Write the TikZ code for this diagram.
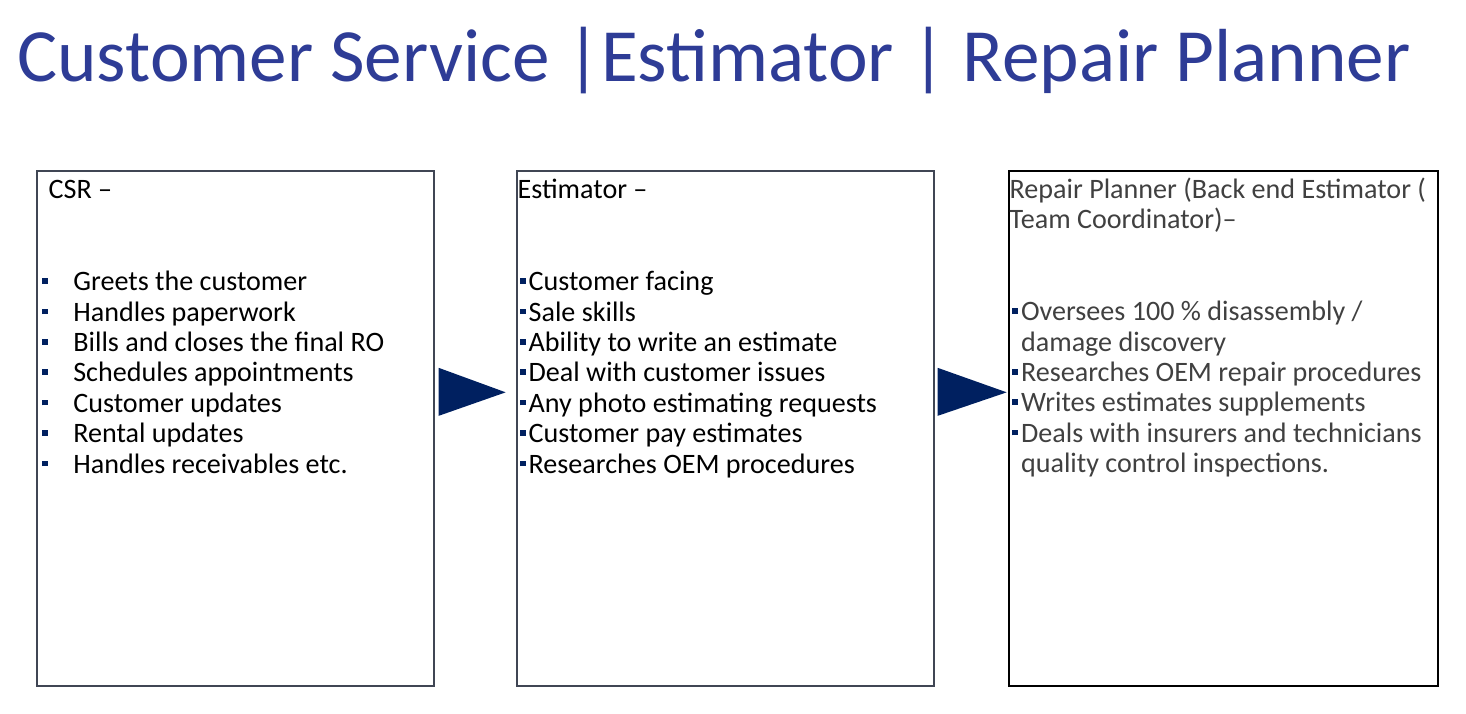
\documentclass[tikz,border=0pt]{standalone}
\usepackage{fontspec}
\setmainfont{Carlito}
\usetikzlibrary{calc}
\definecolor{titleblue}{HTML}{2E3C96}
\definecolor{navy}{HTML}{002060}
\definecolor{boxgrey}{HTML}{404654}
\definecolor{plannergrey}{HTML}{404040}
\def\sqbullet{\textcolor{navy}{\rule[0.14cm]{0.11cm}{0.11cm}}}

\begin{document}
\begin{tikzpicture}[x=0.02cm, y=-0.02cm,
	box/.style={draw=boxgrey, line width=1pt, anchor=north west, inner sep=0pt},
	rowtext/.style={anchor=base west, inner sep=0pt, font=\fontsize{16}{18}\selectfont}]
			%%%%% START %%%%%
			\useasboundingbox (0, 0) rectangle (1466, 713);
			
			\node[anchor=base west, inner sep=0pt, text=titleblue, font=\fontsize{42.8}{50}\selectfont] (title) at (17, 81.5) {Customer Service |Estimator | Repair Planner};
			
			\node[box, minimum width=7.94cm, minimum height=10.3cm] (csr) at (36, 170) {};
			\node[box, minimum width=8.34cm, minimum height=10.3cm] (estimator) at (516, 170) {};
			\node[box, draw=black, line width=1.4pt, minimum width=8.58cm, minimum height=10.3cm] (planner) at (1008, 170) {};
			
			\fill[navy] ($(csr.east)+(4, -60.5)$) -- ($(csr.east)+(71, -36)$) -- ($(csr.east)+(4, -12.5)$) -- cycle;
			\fill[navy] ($(estimator.east)+(3, -60.5)$) -- ($(estimator.east)+(72, -36)$) -- ($(estimator.east)+(3, -12.5)$) -- cycle;
			
			% CSR
			\node[rowtext] (csrhead) at (48.3, 198.3) {CSR --};
			\foreach \txt [count=\i from 0] in {Greets the customer, Handles paperwork, Bills and closes the final RO, Schedules appointments, Customer updates, Rental updates, Handles receivables etc.}
				\node[rowtext] (csr\i) at (42, 290.7+30.4*\i) {\makebox[0.62cm][l]{\sqbullet}\txt};
			
			% Estimator
			\node[rowtext] (esthead) at (517.3, 198.3) {Estimator --};
			\foreach \txt [count=\i from 0] in {Customer facing, Sale skills, Ability to write an estimate, Deal with customer issues, Any photo estimating requests, Customer pay estimates, Researches OEM procedures}
				\node[rowtext] (est\i) at (520, 290.7+30.4*\i) {\makebox[0.166cm][l]{\sqbullet}\txt};
			
			% Repair planner
			\node[rowtext, text=plannergrey] (planhead) at (1009.3, 198) {Repair Planner (Back end Estimator (};
			\node[rowtext, text=plannergrey] (planhead2) at (1009.3, 228.4) {Team Coordinator)--};
			\foreach \b/\txt [count=\i from 0] in {1/{Oversees 100 \% disassembly /}, 0/{damage discovery}, 1/{Researches OEM repair procedures}, 1/{Writes estimates supplements}, 1/{Deals with insurers and technicians}, 0/{quality control inspections.}}
				\node[rowtext, text=plannergrey] (plan\i) at (1011.7, 320.7+30.4*\i) {\makebox[0.18cm][l]{\ifnum\b=1 \sqbullet\fi}\txt};
			
			%%%%% END %%%%%
\end{tikzpicture}
\end{document}
